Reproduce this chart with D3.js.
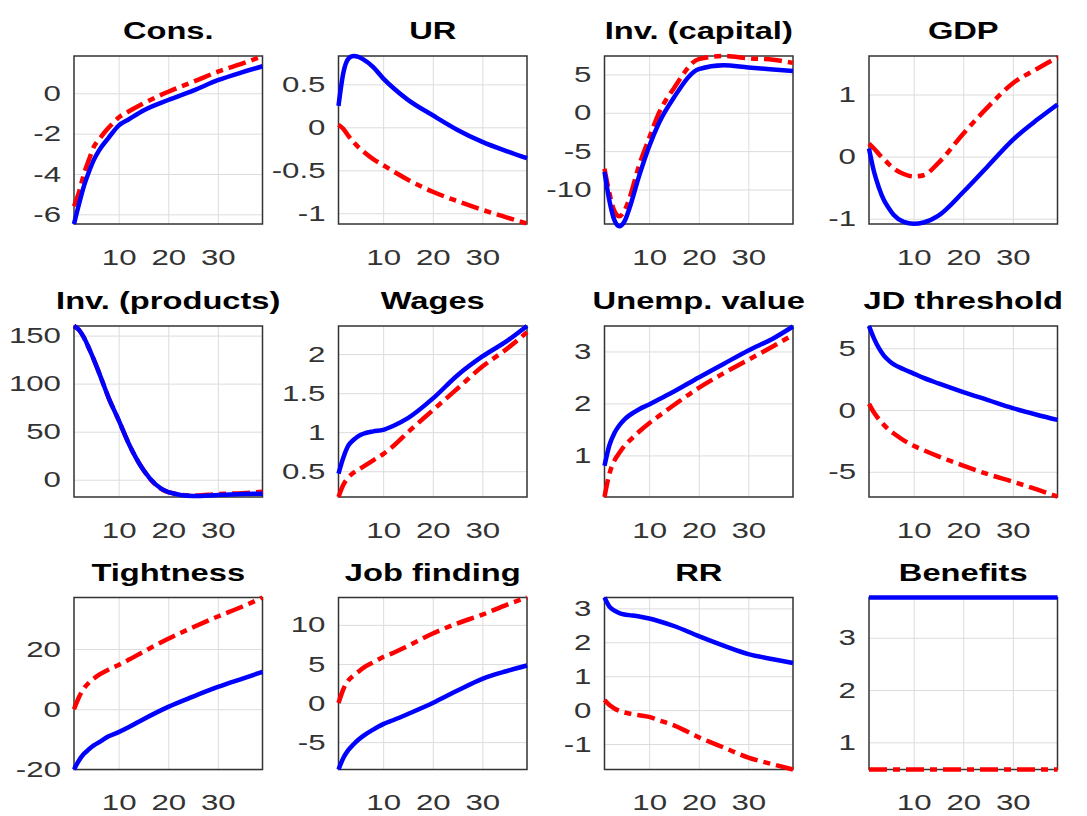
<!DOCTYPE html>
<html>
<head>
<meta charset="utf-8">
<script src="https://cdn.jsdelivr.net/npm/d3@7"></script>
<style>
  body { margin: 0; background: #fff; }
  text { font-family: "Liberation Sans", Arial, sans-serif; }
</style>
</head>
<body>
<div id="chart-area"></div>
<script>
var periods = [1, 2, 3, 4, 5, 6, 8, 10, 12, 15, 20, 25, 30, 35, 39];

var titles = ["Cons.", "UR", "Inv. (capital)", "GDP",
              "Inv. (products)", "Wages", "Unemp. value", "JD threshold",
              "Tightness", "Job finding", "RR", "Benefits"];

// axis limits and ticks for every panel
var yMin = [-6.48, -1.125, -14.5, -1.085, -18, 0.17, 0.2, -7.04, -20, -8.5, -1.75, 0.48];
var yMax = [1.85, 0.83, 7.4, 1.62, 160, 2.36, 3.49, 6.8, 37.1, 13.5, 3.32, 3.77];
var yTicks = [[-6, -4, -2, 0], [-1, -0.5, 0, 0.5], [-10, -5, 0, 5], [-1, 0, 1],
              [0, 50, 100, 150], [0.5, 1, 1.5, 2], [1, 2, 3], [-5, 0, 5],
              [-20, 0, 20], [-5, 0, 5, 10], [-1, 0, 1, 2, 3], [1, 2, 3]];
var xTicks = [10, 20, 30];

// blue (solid) and red (dash-dot) series
var consBlue  = [-6.48, -5.5, -4.6, -3.9, -3.3, -2.85, -2.2, -1.6, -1.3, -0.85, -0.33, 0.13, 0.65, 1.05, 1.34];
var consRed   = [-5.6, -4.9, -4.0, -3.3, -2.65, -2.3, -1.7, -1.2, -0.9, -0.5, 0.08, 0.57, 1.07, 1.48, 1.84];
var urBlue    = [0.25, 0.64, 0.8, 0.83, 0.82, 0.79, 0.7, 0.57, 0.46, 0.32, 0.14, -0.03, -0.17, -0.28, -0.36];
var urRed     = [0.03, -0.02, -0.1, -0.17, -0.23, -0.28, -0.37, -0.44, -0.51, -0.61, -0.75, -0.86, -0.96, -1.05, -1.12];
var capBlue   = [-7.7, -11.5, -14, -14.8, -14.2, -12.5, -8.2, -4.4, -1.3, 2.0, 5.7, 6.2, 5.9, 5.65, 5.45];
var capRed    = [-7.3, -10.5, -12.8, -13.5, -12.8, -11.2, -6.8, -3.3, 0.0, 3.2, 7.0, 7.4, 7.1, 6.9, 6.5];
var gdpBlue   = [0.13, -0.24, -0.5, -0.7, -0.83, -0.94, -1.05, -1.08, -1.06, -0.95, -0.57, -0.15, 0.27, 0.6, 0.84];
var gdpRed    = [0.21, 0.13, 0.04, -0.04, -0.12, -0.19, -0.28, -0.32, -0.3, -0.1, 0.37, 0.8, 1.18, 1.42, 1.6];
var prodBlue  = [160, 156, 148, 137, 125, 112, 85, 62, 38, 10, -13, -17, -16, -15, -14.5];
var prodRed   = [160, 156, 148, 137, 125, 112, 85, 62, 38, 10, -13, -16.5, -15, -14, -12.5];
var wageBlue  = [0.47, 0.68, 0.83, 0.9, 0.95, 0.98, 1.01, 1.03, 1.08, 1.18, 1.43, 1.73, 1.97, 2.17, 2.36];
var wageRed   = [0.17, 0.33, 0.42, 0.48, 0.52, 0.56, 0.64, 0.72, 0.82, 1.0, 1.28, 1.56, 1.84, 2.07, 2.28];
var uvalBlue  = [0.8, 1.2, 1.43, 1.58, 1.69, 1.77, 1.89, 1.98, 2.08, 2.23, 2.5, 2.76, 3.02, 3.25, 3.48];
var uvalRed   = [0.2, 0.65, 0.9, 1.05, 1.18, 1.28, 1.46, 1.62, 1.76, 1.97, 2.3, 2.58, 2.84, 3.1, 3.32];
var jdBlue    = [6.8, 5.8, 5.0, 4.4, 4.0, 3.7, 3.3, 2.95, 2.6, 2.15, 1.45, 0.8, 0.15, -0.4, -0.8];
var jdRed     = [0.5, -0.2, -0.75, -1.2, -1.6, -1.9, -2.45, -2.9, -3.25, -3.75, -4.5, -5.2, -5.8, -6.45, -7.0];
var tightBlue = [-20, -17, -14.8, -13.3, -12, -11, -9, -7.6, -6, -3.3, 0.8, 4.2, 7.4, 10.2, 12.4];
var tightRed  = [0, 4, 6.9, 8.8, 10.2, 11.4, 13.2, 14.7, 16.4, 19.1, 23.4, 27.2, 30.8, 34.1, 37.1];
var jobBlue   = [-8.5, -7.0, -6.0, -5.3, -4.7, -4.2, -3.4, -2.7, -2.2, -1.4, 0.0, 1.6, 3.1, 4.1, 4.8];
var jobRed    = [0, 1.8, 2.9, 3.5, 4.0, 4.5, 5.2, 5.9, 6.4, 7.3, 8.9, 10.2, 11.3, 12.6, 13.5];
var rrBlue    = [3.32, 3.05, 2.93, 2.86, 2.82, 2.8, 2.76, 2.7, 2.62, 2.48, 2.18, 1.9, 1.65, 1.5, 1.39];
var rrRed     = [0.3, 0.15, 0.05, -0.02, -0.07, -0.1, -0.15, -0.2, -0.3, -0.45, -0.8, -1.1, -1.4, -1.6, -1.75];
var benBlue   = [3.77, 3.77, 3.77, 3.77, 3.77, 3.77, 3.77, 3.77, 3.77, 3.77, 3.77, 3.77, 3.77, 3.77, 3.77];
var benRed    = [0.48, 0.48, 0.48, 0.48, 0.48, 0.48, 0.48, 0.48, 0.48, 0.48, 0.48, 0.48, 0.48, 0.48, 0.48];

var blueSeries = [consBlue, urBlue, capBlue, gdpBlue, prodBlue, wageBlue, uvalBlue, jdBlue, tightBlue, jobBlue, rrBlue, benBlue];
var redSeries  = [consRed, urRed, capRed, gdpRed, prodRed, wageRed, uvalRed, jdRed, tightRed, jobRed, rrRed, benRed];

// layout
var width = 1087, height = 816;
var colLeft = [74, 338.5, 604.5, 869];
var boxW = 188.5;
var rowTop = [56, 326, 597.5];
var rowBottom = [224, 497, 769.5];
var stretch = 1.42;   // the reference text is drawn wide

var svg = d3.select("#chart-area").append("svg")
    .attr("width", width)
    .attr("height", height);

svg.append("rect").attr("width", width).attr("height", height).attr("fill", "#fff");

titles.forEach(function(title, i) {
    var left = colLeft[i % 4], top = rowTop[Math.floor(i / 4)], bottom = rowBottom[Math.floor(i / 4)];
    var w = boxW, h = bottom - top;

    var x = d3.scaleLinear().domain([1, 39]).range([0, w]);
    var y = d3.scaleLinear().domain([yMin[i], yMax[i]]).range([h, 0]);

    var g = svg.append("g").attr("transform", "translate(" + left + "," + top + ")");

    // y axis with grid
    var ya = g.append("g")
        .call(d3.axisLeft(y).tickValues(yTicks[i]).tickSize(-w).tickPadding(13)
            .tickFormat(function(d) { return String(d); }));
    // x axis with grid
    var xa = g.append("g")
        .attr("transform", "translate(0," + h + ")")
        .call(d3.axisBottom(x).tickValues(xTicks).tickSize(-h).tickPadding(25)
            .tickFormat(function(d) { return String(d); }));

    [ya, xa].forEach(function(a) {
        a.select(".domain").remove();
        a.selectAll("line").attr("stroke", "#dcdcdc").attr("stroke-width", 1);
        a.selectAll("text").attr("fill", "#333").style("font-size", "22px");
    });
    ya.selectAll("text").attr("x", 0)
        .attr("transform", "translate(-13,0) scale(" + stretch + ",1)");
    xa.selectAll("text").attr("transform", "scale(" + stretch + ",1)");

    // box
    g.append("rect")
        .attr("width", w).attr("height", h)
        .attr("fill", "none").attr("stroke", "#333").attr("stroke-width", 1.5);

    var line = d3.line()
        .x(function(d, k) { return x(periods[k]); })
        .y(function(d) { return y(d); })
        .curve(d3.curveMonotoneX);

    g.append("path").datum(redSeries[i])
        .attr("d", line)
        .attr("fill", "none").attr("stroke", "#ff0000").attr("stroke-width", 4.5)
        .attr("stroke-dasharray", "18,6,7,6");
    g.append("path").datum(blueSeries[i])
        .attr("d", line)
        .attr("fill", "none").attr("stroke", "#0000ff").attr("stroke-width", 4.5)
        .attr("stroke-linejoin", "round");

    // title
    g.append("text")
        .attr("text-anchor", "middle")
        .attr("transform", "translate(" + (w / 2) + "," + (-17) + ") scale(" + stretch + ",1)")
        .style("font-size", "23px").style("font-weight", "bold")
        .attr("fill", "#000")
        .text(title);
});
</script>
</body>
</html>
